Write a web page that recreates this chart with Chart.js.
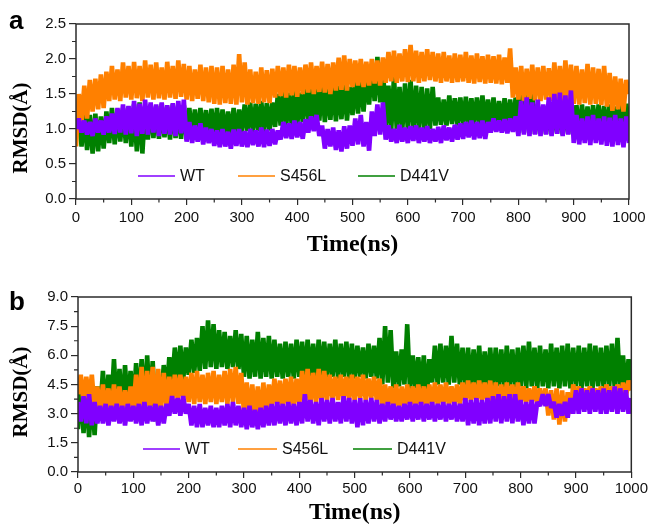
<!DOCTYPE html>
<html>
<head>
<meta charset="utf-8">
<script src="https://cdn.jsdelivr.net/npm/chart.js@4.4.1/dist/chart.umd.min.js"></script>
<style>
  html, body { margin: 0; padding: 0; background: #fff; }
  canvas { display: block; }
</style>
</head>
<body>
<canvas id="chartA" width="650" height="264"></canvas>
<canvas id="chartB" width="650" height="264"></canvas>
<script>
// sampled every 5 ns, 0..1000
const timeStep = 5;
const seriesNames = ["WT", "S456L", "D441V"];
const seriesColors = ["#8000ff", "#ff8000", "#008000"];
const xTicks = [0, 100, 200, 300, 400, 500, 600, 700, 800, 900, 1000];
const yTicksA = [0.0, 0.5, 1.0, 1.5, 2.0, 2.5];
const yTicksB = [0.0, 1.5, 3.0, 4.5, 6.0, 7.5, 9.0];

// panel a
const aWT = [
  1.0,1.15,0.95,1.12,0.92,1.1,0.9,1.15,0.95,1.12,
  0.92,1.18,0.95,1.22,0.93,1.3,0.95,1.35,0.92,1.33,
  0.94,1.4,0.9,1.36,0.93,1.42,0.92,1.38,0.95,1.35,
  0.9,1.38,0.93,1.34,0.92,1.37,0.9,1.4,0.94,1.42,
  0.82,1.1,0.8,1.05,0.82,1.08,0.78,1.02,0.8,1.0,
  0.76,0.98,0.74,1.0,0.75,0.96,0.72,0.99,0.76,1.0,
  0.75,0.97,0.74,1.0,0.77,0.98,0.75,1.02,0.74,0.99,
  0.76,1.0,0.78,0.98,0.85,1.1,0.87,1.08,0.86,1.12,
  0.88,1.1,0.86,1.14,0.95,1.18,0.97,1.2,0.9,1.05,
  0.72,1.0,0.75,1.02,0.7,0.98,0.68,1.04,0.72,1.05,
  0.76,1.15,0.78,1.2,0.75,1.1,0.69,1.25,0.9,1.35,
  0.92,1.38,0.85,1.05,0.82,1.0,0.8,1.06,0.82,1.02,
  0.8,1.04,0.83,1.05,0.8,1.02,0.82,1.04,0.8,1.0,
  0.82,1.03,0.8,1.05,0.84,1.02,0.82,1.06,0.85,1.08,
  0.86,1.1,0.88,1.12,0.85,1.1,0.87,1.12,0.86,1.1,
  0.95,1.15,0.96,1.12,0.95,1.14,0.94,1.15,0.96,1.18,
  0.9,1.4,0.92,1.45,0.9,1.38,0.92,1.42,0.9,1.35,
  0.92,1.45,0.9,1.5,0.93,1.52,0.9,1.48,0.92,1.55,
  0.8,1.2,0.78,1.15,0.8,1.18,0.77,1.2,0.8,1.15,
  0.78,1.18,0.76,1.16,0.75,1.2,0.77,1.15,0.74,1.18,
  0.8
];
const aS456L = [
  0.75,1.5,1.1,1.62,1.15,1.7,1.25,1.72,1.28,1.78,
  1.3,1.82,1.4,1.9,1.42,1.85,1.4,1.95,1.45,1.9,
  1.42,1.96,1.44,1.9,1.4,1.98,1.45,1.92,1.42,1.95,
  1.44,1.88,1.42,1.96,1.45,1.9,1.43,1.98,1.46,1.93,
  1.42,1.9,1.4,1.85,1.43,1.92,1.4,1.88,1.38,1.9,
  1.36,1.88,1.35,1.9,1.37,1.85,1.36,1.92,1.35,2.07,
  1.38,1.95,1.35,1.85,1.37,1.82,1.36,1.88,1.38,1.84,
  1.37,1.86,1.45,1.9,1.47,1.88,1.45,1.92,1.48,1.9,
  1.46,1.88,1.5,1.92,1.52,1.95,1.5,1.9,1.53,1.96,
  1.52,1.93,1.5,1.95,1.55,2.02,1.56,2.05,1.55,2.0,
  1.6,1.98,1.62,2.0,1.6,1.96,1.62,2.0,1.65,1.98,
  1.62,2.02,1.66,2.1,1.68,2.12,1.66,2.08,1.68,2.14,
  1.67,2.2,1.68,2.12,1.66,2.1,1.68,2.14,1.7,2.1,
  1.68,2.08,1.66,2.1,1.68,2.05,1.66,2.08,1.67,2.06,
  1.68,2.1,1.66,2.05,1.65,2.08,1.67,2.04,1.65,2.06,
  1.66,2.04,1.65,2.06,1.64,2.02,1.66,2.15,1.45,1.88,
  1.42,1.9,1.4,1.86,1.43,1.92,1.41,1.88,1.4,1.9,
  1.42,1.87,1.4,1.95,1.42,1.9,1.38,1.98,1.4,1.92,
  1.36,1.9,1.35,1.85,1.37,1.93,1.35,1.88,1.36,1.86,
  1.34,1.9,1.32,1.8,1.26,1.75,1.28,1.72,1.25,1.7,
  1.5
];
const aD441V = [
  1.0,1.3,0.75,1.25,0.7,1.2,0.65,1.22,0.68,1.18,
  0.72,1.25,0.8,1.3,0.78,1.28,0.82,1.3,0.8,1.32,
  0.75,1.35,0.68,1.38,0.65,1.3,0.85,1.35,0.87,1.33,
  0.86,1.36,0.88,1.32,0.85,1.35,0.87,1.3,0.86,1.34,
  0.85,1.3,0.87,1.28,0.85,1.3,0.88,1.27,0.86,1.29,
  0.87,1.3,0.86,1.28,0.88,1.25,0.87,1.3,0.86,1.28,
  0.95,1.35,0.97,1.38,0.95,1.36,0.97,1.4,0.96,1.37,
  0.98,1.38,1.03,1.5,1.05,1.55,1.03,1.52,1.06,1.55,
  1.05,1.52,1.1,1.6,1.12,1.58,1.1,1.62,1.12,1.65,
  1.1,1.6,1.13,1.65,1.11,1.62,1.14,1.66,1.12,1.6,
  1.2,1.72,1.22,1.75,1.25,1.8,1.35,1.9,1.4,2.03,
  1.38,1.95,1.0,1.62,0.98,1.75,1.0,1.6,0.98,1.65,
  1.0,1.7,0.98,1.62,1.0,1.6,0.97,1.58,1.0,1.6,
  1.05,1.45,1.06,1.42,1.05,1.48,1.07,1.44,1.05,1.45,
  1.06,1.46,1.05,1.44,1.07,1.45,1.06,1.48,1.05,1.42,
  1.04,1.45,1.03,1.4,1.05,1.44,1.03,1.42,1.04,1.45,
  0.96,1.6,0.95,1.63,0.97,1.5,0.93,1.35,0.94,1.33,
  0.93,1.35,0.92,1.32,0.94,1.34,0.92,1.35,0.93,1.32,
  0.94,1.34,0.92,1.35,0.93,1.32,0.94,1.34,0.92,1.35,
  0.93,1.33,0.92,1.35,0.94,1.32,0.93,1.34,0.92,1.36,
  1.0
];

// panel b
const bWT = [
  3.6,2.6,3.9,2.5,4.0,2.4,3.6,2.5,3.4,2.5,
  3.5,2.4,3.4,2.6,3.5,2.5,3.4,2.4,3.5,2.6,
  3.4,2.5,3.5,2.4,3.6,2.5,3.4,2.6,3.5,2.4,
  3.4,2.5,3.5,2.9,3.9,3.0,3.8,2.9,3.9,3.0,
  3.5,2.4,3.4,2.3,3.5,2.3,3.3,2.4,3.4,2.3,
  3.3,2.3,3.4,2.4,3.5,2.3,3.6,2.4,3.4,2.3,
  3.3,2.2,3.4,2.3,3.2,2.2,3.3,2.3,3.4,2.4,
  3.5,2.4,3.6,2.5,3.5,2.4,3.6,2.5,3.5,2.4,
  3.6,2.5,4.0,2.6,3.7,2.5,3.6,2.4,3.8,2.6,
  3.7,2.5,3.8,2.6,3.6,2.5,3.9,2.6,3.8,2.5,
  3.7,2.3,3.8,2.4,3.7,2.5,3.8,2.6,3.7,2.5,
  3.5,2.6,3.6,2.7,3.5,2.6,3.4,2.6,3.5,2.7,
  3.6,2.6,3.5,2.7,3.6,2.6,3.5,2.7,3.6,2.6,
  3.5,2.7,3.6,2.6,3.5,2.7,3.6,2.6,3.5,2.6,
  3.8,2.4,3.7,2.5,3.8,2.4,3.7,2.5,3.8,2.5,
  3.9,2.6,4.0,2.5,3.9,2.6,4.0,2.5,4.0,2.6,
  3.7,2.4,3.6,2.5,3.7,2.5,3.6,3.4,4.0,3.4,
  4.0,3.3,3.6,2.8,3.5,2.9,3.6,2.8,3.8,3.0,
  4.2,3.0,4.3,3.1,4.2,3.0,4.3,3.1,4.2,3.0,
  4.3,3.0,4.2,3.1,4.4,3.0,4.3,3.1,4.2,3.0,
  3.8
];
const bS456L = [
  4.0,5.0,3.6,4.9,3.7,5.0,3.2,4.4,3.0,4.5,
  3.1,4.3,3.0,4.5,3.2,4.4,3.0,4.2,3.1,4.4,
  3.2,5.0,3.1,5.4,3.0,5.2,3.3,5.4,3.0,5.3,
  3.2,5.1,3.4,4.9,3.6,5.0,3.8,5.0,3.7,4.9,
  3.6,5.1,3.5,5.2,3.6,5.0,3.5,5.1,3.6,5.2,
  3.5,5.0,3.6,5.2,3.5,5.3,3.6,5.4,3.5,5.1,
  3.0,4.6,2.9,4.5,2.8,4.4,2.7,4.6,2.9,4.5,
  3.3,4.8,3.4,4.7,3.3,4.8,3.4,4.9,3.3,4.8,
  3.5,5.2,3.6,5.3,3.5,5.1,3.6,5.3,3.5,5.2,
  3.7,5.0,3.8,4.9,3.7,5.0,3.8,4.9,3.7,5.0,
  3.7,4.9,3.8,5.0,3.7,4.8,3.8,4.9,3.7,4.8,
  3.3,4.5,3.4,4.4,3.3,4.5,3.2,4.4,3.3,4.5,
  3.4,4.4,3.3,4.5,3.4,4.4,3.3,4.5,3.4,4.6,
  3.5,4.5,3.4,4.6,3.5,4.4,3.4,4.5,3.5,4.6,
  3.6,4.7,3.7,4.6,3.6,4.7,3.7,4.6,3.6,4.7,
  3.3,4.6,3.2,4.5,3.3,4.6,3.4,4.5,3.3,4.6,
  3.5,4.4,3.6,4.3,3.5,4.4,3.6,4.3,3.5,4.3,
  2.9,4.2,2.7,4.3,2.44,4.2,2.6,4.1,3.0,4.5,
  3.7,4.4,3.6,4.3,3.7,4.4,3.6,4.3,3.7,4.4,
  3.6,4.5,3.7,4.4,3.6,4.5,3.7,4.6,3.8,4.7,
  4.2
];
const bD441V = [
  2.2,4.5,2.0,4.2,1.8,4.0,1.9,4.4,3.0,5.2,
  3.0,5.0,3.2,5.8,3.1,5.3,3.0,5.5,3.2,5.2,
  3.2,5.6,3.3,5.8,3.2,6.0,3.4,5.7,2.6,4.6,
  3.6,5.5,3.8,5.9,4.5,6.4,4.6,6.5,4.7,6.4,
  5.0,6.8,5.1,6.9,5.2,7.5,5.3,7.8,5.4,7.6,
  5.3,7.3,5.4,7.2,5.3,7.0,5.4,7.3,5.3,7.1,
  4.9,7.0,4.8,6.8,4.9,7.2,4.8,6.9,4.9,7.0,
  4.8,6.8,4.9,6.6,4.8,6.7,4.9,6.6,4.8,6.8,
  4.9,6.7,4.8,6.8,4.9,6.6,4.8,6.8,4.9,6.7,
  4.8,6.6,4.9,6.8,4.8,6.6,4.9,6.7,4.8,6.6,
  4.8,6.5,4.9,6.4,4.8,6.6,4.9,6.5,4.8,6.9,
  4.5,7.5,4.6,7.3,4.3,6.2,4.4,6.3,4.5,7.6,
  4.2,6.0,4.3,5.9,4.2,6.0,3.8,5.8,4.6,6.5,
  4.5,6.6,4.6,6.5,4.5,7.0,4.6,6.6,4.5,6.4,
  4.4,6.4,4.3,6.3,4.4,6.5,4.3,6.2,4.4,6.4,
  4.3,6.4,4.4,6.3,4.3,6.5,4.4,6.3,4.3,6.4,
  4.4,6.5,4.3,6.7,4.4,6.4,4.3,6.5,4.4,6.3,
  4.3,6.6,4.4,6.4,4.3,6.5,4.4,6.6,4.3,6.4,
  4.4,6.5,4.3,6.4,4.4,6.6,4.3,6.5,4.4,6.4,
  4.3,6.5,4.4,6.6,4.3,6.9,4.2,6.0,4.1,5.8,
  4.6
];

const SANS = "'Liberation Sans', Arial, sans-serif";
const SERIF = "'Liberation Serif', 'Times New Roman', serif";
const AXIS = "#2b2b2b";

const toPoints = (arr) => arr.map((v, i) => ({ x: i * timeStep, y: v }));

// frame, minor ticks, panel letter, y title and legend
const panelExtras = {
  id: "panelExtras",
  afterDraw(chart, args, opts) {
    const ctx = chart.ctx;
    const a = chart.chartArea;
    const xs = chart.scales.x, ys = chart.scales.y;
    ctx.save();
    ctx.strokeStyle = AXIS;
    ctx.lineWidth = 1.5;
    ctx.strokeRect(a.left, a.top, a.right - a.left, a.bottom - a.top);
    ctx.lineWidth = 1.2;
    ctx.beginPath();
    for (let i = 0; i < xTicks.length - 1; i++) {
      const px = xs.getPixelForValue((xTicks[i] + xTicks[i + 1]) / 2);
      ctx.moveTo(px, a.bottom);
      ctx.lineTo(px, a.bottom + 3.5);
    }
    const yt = opts.yTicks;
    for (let i = 0; i < yt.length - 1; i++) {
      const py = ys.getPixelForValue((yt[i] + yt[i + 1]) / 2);
      ctx.moveTo(a.left, py);
      ctx.lineTo(a.left - 4, py);
    }
    ctx.stroke();

    ctx.fillStyle = "#000";
    ctx.font = "bold 26px " + SANS;
    ctx.textAlign = "left";
    ctx.textBaseline = "alphabetic";
    ctx.fillText(opts.letter, opts.letterX, opts.letterY);

    ctx.save();
    ctx.translate(22, opts.yTitleY);
    ctx.rotate(-Math.PI / 2);
    ctx.font = "bold 21px " + SERIF;
    ctx.textAlign = "center";
    ctx.textBaseline = "middle";
    ctx.fillText("RMSD(Å)", 0, 0);
    ctx.restore();

    ctx.font = "16px " + SANS;
    ctx.textBaseline = "middle";
    ctx.lineWidth = 1.6;
    opts.legend.forEach((item, i) => {
      ctx.strokeStyle = seriesColors[i];
      ctx.beginPath();
      ctx.moveTo(item[0], opts.legendY);
      ctx.lineTo(item[1], opts.legendY);
      ctx.stroke();
      ctx.fillStyle = "#111";
      ctx.fillText(seriesNames[i], item[1] + 5, opts.legendY + 1);
    });
    ctx.restore();
  }
};

function makeChart(id, series, cfg) {
  const ctx = document.getElementById(id).getContext("2d");
  return new Chart(ctx, {
    type: "line",
    data: {
      datasets: series.map((arr, i) => ({
        label: seriesNames[i],
        data: toPoints(arr),
        borderColor: seriesColors[i],
        borderWidth: 4.6,
        borderJoinStyle: "bevel",
        pointRadius: 0,
        fill: false,
        tension: 0,
      })),
    },
    options: {
      responsive: false,
      animation: false,
      layout: { padding: { top: cfg.top, right: cfg.right, left: 0, bottom: 0 } },
      plugins: {
        legend: { display: false },
        tooltip: { enabled: false },
        panelExtras: cfg.extras,
      },
      scales: {
        x: {
          type: "linear",
          min: 0,
          max: 1000,
          afterBuildTicks: (s) => { s.ticks = xTicks.map((v) => ({ value: v })); },
          afterFit: (s) => { s.height = cfg.xHeight; },
          grid: { drawOnChartArea: false, drawTicks: true, tickLength: 6, color: AXIS, lineWidth: 1.2 },
          border: { display: false },
          ticks: {
            color: "#111",
            font: { family: SANS, size: 15 },
            padding: cfg.xPad,
            maxRotation: 0,
            callback: (v) => String(v),
          },
          title: {
            display: true,
            text: "Time(ns)",
            color: "#000",
            font: { family: SERIF, size: 24, weight: "bold" },
            padding: { top: 0, bottom: cfg.titlePad },
          },
        },
        y: {
          type: "linear",
          min: cfg.yTicks[0],
          max: cfg.yTicks[cfg.yTicks.length - 1],
          afterBuildTicks: (s) => { s.ticks = cfg.yTicks.map((v) => ({ value: v })); },
          afterFit: (s) => { s.width = cfg.yWidth; },
          grid: { drawOnChartArea: false, drawTicks: true, tickLength: 7, color: AXIS, lineWidth: 1.2 },
          border: { display: false },
          ticks: {
            color: "#111",
            font: { family: SANS, size: 15 },
            padding: 3,
            callback: (v) => Number(v).toFixed(1),
          },
        },
      },
    },
    plugins: [panelExtras],
  });
}

makeChart("chartA", [aWT, aS456L, aD441V], {
  top: 24, right: 21, yWidth: 76, xHeight: 65, xPad: 4, titlePad: 5,
  yTicks: yTicksA,
  extras: {
    letter: "a", letterX: 9, letterY: 29, yTitleY: 128, yTicks: yTicksA,
    legendY: 176, legend: [[138, 175], [238, 275], [358, 395]],
  },
});

makeChart("chartB", [bWT, bS456L, bD441V], {
  top: 33, right: 18, yWidth: 78, xHeight: 56, xPad: 2, titlePad: 1,
  yTicks: yTicksB,
  extras: {
    letter: "b", letterX: 9, letterY: 46, yTitleY: 128, yTicks: yTicksB,
    legendY: 185, legend: [[143, 180], [238, 277], [353, 392]],
  },
});
</script>
</body>
</html>
